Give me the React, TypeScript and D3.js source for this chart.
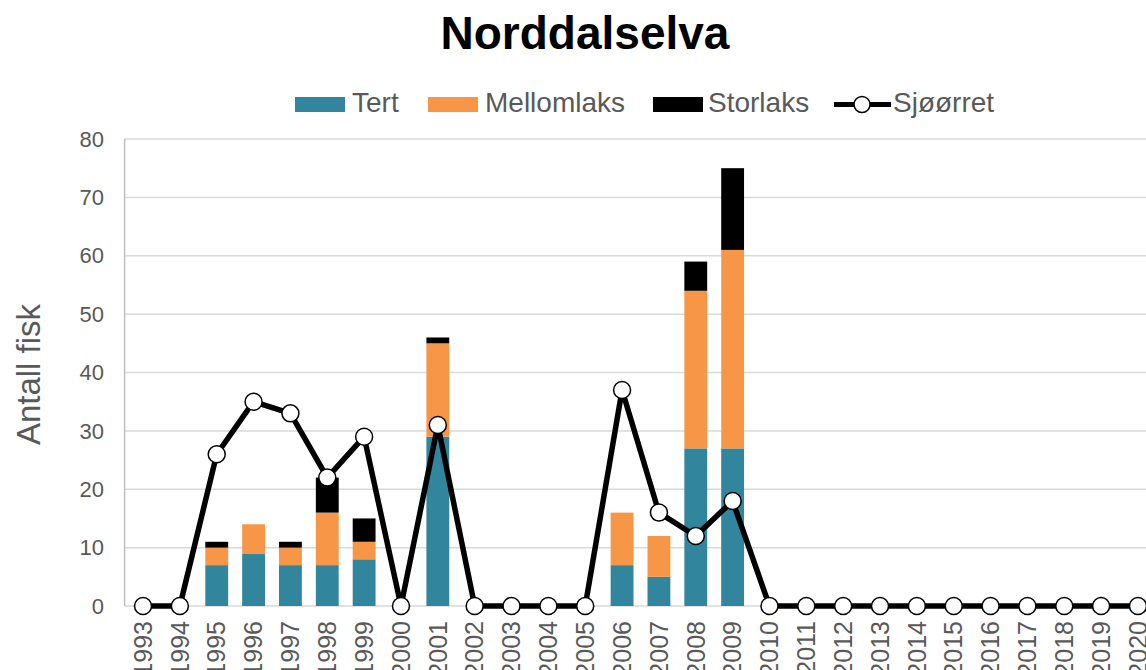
import React from "react";
import * as d3 from "d3";

const years = d3.range(1993, 2021).map(String);
const tert = [0, 0, 7, 9, 7, 7, 8, 0, 29, 0, 0, 0, 0, 7, 5, 27, 27, 0, 0, 0, 0, 0, 0, 0, 0, 0, 0, 0];
const mellomlaks = [0, 0, 3, 5, 3, 9, 3, 0, 16, 0, 0, 0, 0, 9, 7, 27, 34, 0, 0, 0, 0, 0, 0, 0, 0, 0, 0, 0];
const storlaks = [0, 0, 1, 0, 1, 6, 4, 0, 1, 0, 0, 0, 0, 0, 0, 5, 14, 0, 0, 0, 0, 0, 0, 0, 0, 0, 0, 0];
const sjoorret = [0, 0, 26, 35, 33, 22, 29, 0, 31, 0, 0, 0, 0, 37, 16, 12, 18, 0, 0, 0, 0, 0, 0, 0, 0, 0, 0, 0];
const yTicks = [0, 10, 20, 30, 40, 50, 60, 70, 80];

const seriesKeys = ["Tert", "Mellomlaks", "Storlaks"];
const colors: Record<string, string> = { Tert: "#31859c", Mellomlaks: "#f79646", Storlaks: "#000000" };

const W = 1146;
const H = 670;
const plotLeft = 124.6;
const step = 36.85;
const plotTop = 139;
const plotBottom = 606;
const font = "'Liberation Sans', Arial, sans-serif";
const gray = "#595959";

export default function App() {
  const rows = years.map((y, i) => ({
    year: y,
    Tert: tert[i],
    Mellomlaks: mellomlaks[i],
    Storlaks: storlaks[i],
  }));
  const stacked = d3.stack<any>().keys(seriesKeys)(rows);

  const x = d3
    .scaleBand()
    .domain(years)
    .range([plotLeft, plotLeft + step * years.length])
    .paddingInner(0.38)
    .paddingOuter(0.19);
  const cx = (y: string) => x(y)! + x.bandwidth() / 2;
  const yScale = d3.scaleLinear().domain([0, 80]).range([plotBottom, plotTop]);

  const line = d3
    .line<number>()
    .x((_, i) => cx(years[i]))
    .y((d) => yScale(d));

  return (
    <svg width={W} height={H} style={{ position: "absolute", left: 0, top: 0, background: "#fff" }}>
      <text x={585} y={49} textAnchor="middle" fontFamily={font} fontWeight="bold" fontSize={46} fill="#000">
        Norddalselva
      </text>

      {/* legend */}
      <g fontFamily={font} fontSize={28} fill={gray}>
        <rect x={295} y={97} width={50} height={15} fill={colors.Tert} />
        <text x={352} y={112}>Tert</text>
        <rect x={428} y={97} width={50} height={15} fill={colors.Mellomlaks} />
        <text x={485} y={112}>Mellomlaks</text>
        <rect x={653} y={97} width={50} height={15} fill={colors.Storlaks} />
        <text x={708} y={112}>Storlaks</text>
        <line x1={834} x2={891} y1={104.5} y2={104.5} stroke="#000" strokeWidth={5} />
        <circle cx={862} cy={104.5} r={8} fill="#fff" stroke="#000" strokeWidth={1.5} />
        <text x={893} y={112}>Sjøørret</text>
      </g>

      {/* gridlines */}
      {yTicks.slice(1).map((t) => (
        <line key={t} x1={plotLeft} x2={W} y1={yScale(t)} y2={yScale(t)} stroke="#d9d9d9" strokeWidth={1.5} />
      ))}
      <line x1={plotLeft} x2={W} y1={plotBottom} y2={plotBottom} stroke="#d9d9d9" strokeWidth={1.5} />
      <line x1={plotLeft} x2={plotLeft} y1={plotTop} y2={plotBottom} stroke="#bfbfbf" strokeWidth={1.5} />

      {/* y ticks */}
      <g fontFamily={font} fontSize={22} fill={gray} textAnchor="end">
        {yTicks.map((t) => (
          <text key={t} x={104} y={yScale(t)} dy="0.35em">
            {t}
          </text>
        ))}
      </g>
      <text
        transform={`translate(28,${(plotTop + plotBottom) / 2 + 2}) rotate(-90)`}
        textAnchor="middle"
        dy="0.35em"
        fontFamily={font}
        fontSize={33}
        fill={gray}
      >
        Antall fisk
      </text>

      {/* bars */}
      {stacked.map((s) => (
        <g key={s.key} fill={colors[s.key]}>
          {s.map((d, i) =>
            d[1] - d[0] > 0 ? (
              <rect
                key={i}
                x={x(years[i])}
                width={x.bandwidth()}
                y={yScale(d[1])}
                height={yScale(d[0]) - yScale(d[1])}
              />
            ) : null
          )}
        </g>
      ))}

      {/* sjøørret line */}
      <path d={line(sjoorret)!} fill="none" stroke="#000" strokeWidth={5.5} strokeLinejoin="round" />
      {sjoorret.map((v, i) => (
        <circle key={i} cx={cx(years[i])} cy={yScale(v)} r={8.5} fill="#fff" stroke="#000" strokeWidth={1.5} />
      ))}

      {/* x labels */}
      <g fontFamily={font} fontSize={25} fill={gray} textAnchor="end">
        {years.map((y) => (
          <text key={y} transform={`translate(${cx(y)},621) rotate(-90)`} dy="0.35em">
            {y}
          </text>
        ))}
      </g>
    </svg>
  );
}
